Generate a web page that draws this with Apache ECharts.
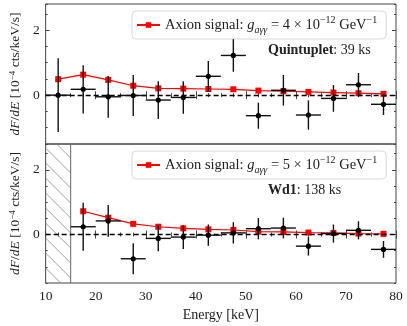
<!DOCTYPE html>
<html>
<head>
<meta charset="utf-8">
<script src="https://cdn.jsdelivr.net/npm/echarts@6/dist/echarts.min.js"></script>
<style>
  html, body { margin: 0; padding: 0; background: #fff; }
  #chart { width: 407px; height: 326px; }
</style>
</head>
<body>
<div id="chart"></div>
<script>
// bin centres (keV) and bin half width
const energy = [12.5, 17.5, 22.5, 27.5, 32.5, 37.5, 42.5, 47.5, 52.5, 57.5, 62.5, 67.5, 72.5, 77.5]
const binHalf = 2.5

// Quintuplet (top panel)
const quintFlux = [0.0, 0.18, -0.05, -0.01, -0.15, -0.07, 0.58, 1.22, -0.63, 0.15, -0.61, -0.10, 0.32, -0.28]
const quintErr = [1.13, 0.74, 0.64, 0.63, 0.58, 0.50, 0.47, 0.50, 0.40, 0.47, 0.45, 0.41, 0.36, 0.33]
const quintSignal = [0.49, 0.63, 0.47, 0.29, 0.21, 0.20, 0.19, 0.18, 0.14, 0.12, 0.10, 0.08, 0.06, 0.04]

// Wd1 (bottom panel), no data below 15 keV
const wd1Energy = [17.5, 22.5, 27.5, 32.5, 37.5, 42.5, 47.5, 52.5, 57.5, 62.5, 67.5, 72.5, 77.5]
const wd1Flux = [0.24, 0.42, -0.75, -0.12, -0.08, -0.02, 0.05, 0.18, 0.20, -0.36, 0.03, 0.13, -0.46]
const wd1Err = [0.74, 0.49, 0.48, 0.40, 0.37, 0.33, 0.33, 0.33, 0.32, 0.29, 0.28, 0.28, 0.26]
const wd1Signal = [0.72, 0.52, 0.33, 0.24, 0.19, 0.16, 0.14, 0.09, 0.08, 0.06, 0.05, 0.03, 0.02]

const excluded = [10, 15]
const yTicks = [0, 2]
const xRange = [10, 80]
const yRange = [-1.5, 2.8]

const FONT = 'Liberation Serif'
const TXT = '#222'
const chart = echarts.init(document.getElementById('chart'))

function xAxes (gridIndex, withLabels) {
  let base = {
    gridIndex: gridIndex,
    type: 'value',
    min: xRange[0],
    max: xRange[1],
    interval: 10,
    axisLine: { show: false },
    splitLine: { show: false },
    axisTick: { inside: true, length: 4, lineStyle: { color: '#444' } },
    minorTick: { show: true, splitNumber: 4, length: 2, lineStyle: { color: '#444' } }
  }
  let bottom = Object.assign({}, base, {
    position: 'bottom',
    axisLabel: { show: withLabels, color: TXT, fontFamily: FONT, fontSize: 13.5, margin: 6 }
  })
  if (withLabels) {
    bottom.name = 'Energy [keV]'
    bottom.nameLocation = 'middle'
    bottom.nameGap = 25
    bottom.nameTextStyle = { color: TXT, fontFamily: FONT, fontSize: 14 }
  }
  let top = Object.assign({}, base, { position: 'top', axisLabel: { show: false } })
  return [bottom, top]
}

function yAxes (gridIndex) {
  let minor = {
    gridIndex: gridIndex,
    type: 'value',
    min: yRange[0],
    max: yRange[1],
    interval: 0.5,
    axisLine: { show: false },
    splitLine: { show: false },
    axisLabel: { show: false },
    axisTick: { inside: true, length: 2, lineStyle: { color: '#444' } }
  }
  let major = Object.assign({}, minor, {
    axisTick: { inside: true, length: 4, customValues: yTicks, lineStyle: { color: '#444' } }
  })
  let left = Object.assign({}, minor, {
    position: 'left',
    axisLabel: { show: true, customValues: yTicks, color: TXT, fontFamily: FONT, fontSize: 13.5, margin: 6 },
    name: '{i|dF}/{i|dE} [10{s|−4} cts/keV/s]',
    nameLocation: 'middle',
    nameGap: 18,
    nameRotate: 90,
    nameTextStyle: {
      color: TXT, fontFamily: FONT, fontSize: 13.5,
      rich: {
        i: { fontStyle: 'italic', fontFamily: FONT, fontSize: 13.5, color: TXT },
        s: { fontSize: 9, fontFamily: FONT, color: TXT, verticalAlign: 'top', lineHeight: 14 }
      }
    }
  })
  return [
    left,
    Object.assign({}, major, { position: 'left' }),
    Object.assign({}, minor, { position: 'right' }),
    Object.assign({}, major, { position: 'right' })
  ]
}

function errorSeries (xIdx, yIdx, xs, ys, errs) {
  return {
    type: 'custom',
    xAxisIndex: xIdx,
    yAxisIndex: yIdx,
    z: 5,
    data: xs.map((x, i) => [x, ys[i], errs[i]]),
    renderItem (params, api) {
      let x = api.value(0)
      let y = api.value(1)
      let e = api.value(2)
      let c = api.coord([x, y])
      let lo = api.coord([x, y - e])
      let hi = api.coord([x, y + e])
      let l = api.coord([x - binHalf, y])
      let r = api.coord([x + binHalf, y])
      let st = { stroke: '#111', lineWidth: 1.4 }
      return {
        type: 'group',
        children: [
          { type: 'line', shape: { x1: lo[0], y1: lo[1], x2: hi[0], y2: hi[1] }, style: st },
          { type: 'line', shape: { x1: l[0], y1: l[1], x2: r[0], y2: r[1] }, style: st },
          { type: 'circle', shape: { cx: c[0], cy: c[1], r: 2.6 }, style: { fill: '#000' } }
        ]
      }
    }
  }
}

function signalSeries (name, xIdx, yIdx, xs, ys) {
  return {
    name: name,
    type: 'line',
    xAxisIndex: xIdx,
    yAxisIndex: yIdx,
    z: 4,
    data: xs.map((x, i) => [x, ys[i]]),
    symbol: 'rect',
    symbolSize: 6,
    lineStyle: { color: '#ff0000', width: 1.2 },
    itemStyle: { color: '#ff0000' },
    animation: false,
    markLine: {
      silent: true,
      symbol: 'none',
      label: { show: false },
      lineStyle: { color: '#000', type: [5, 3], width: 1.3 },
      data: [{ yAxis: 0 }],
      animation: false
    }
  }
}

// hatched region where the Wd1 data are excluded
const hatchSeries = {
  type: 'custom',
  xAxisIndex: 2,
  yAxisIndex: 4,
  z: 1,
  data: [[excluded[0], excluded[1]]],
  renderItem (params, api) {
    let p0 = api.coord([api.value(0), yRange[1]])
    let p1 = api.coord([api.value(1), yRange[0]])
    let L = p0[0], T = p0[1], R = p1[0], B = p1[1]
    let kids = []
    let st = { stroke: '#888', lineWidth: 0.8 }
    for (let c = L - B; c <= R - T; c += 15) {
      let xa = Math.max(L, T + c)
      let xb = Math.min(R, B + c)
      if (xb > xa) {
        kids.push({ type: 'line', shape: { x1: xa, y1: xa - c, x2: xb, y2: xb - c }, style: st })
      }
    }
    kids.push({ type: 'line', shape: { x1: R, y1: T, x2: R, y2: B }, style: { stroke: '#666', lineWidth: 1 } })
    return { type: 'group', children: kids }
  }
}

const legendRich = {
  i: { fontStyle: 'italic', fontFamily: FONT, fontSize: 14.5, color: TXT },
  sub: { fontStyle: 'italic', fontFamily: FONT, fontSize: 10, color: TXT, verticalAlign: 'bottom', lineHeight: 20 },
  sup: { fontFamily: FONT, fontSize: 10, color: TXT, verticalAlign: 'top', lineHeight: 15 }
}

function legendBox (name, top, g) {
  return {
    data: [name],
    left: 132,
    top: top,
    orient: 'horizontal',
    backgroundColor: '#fff',
    borderColor: '#d8d8d8',
    borderWidth: 1,
    borderRadius: 4,
    padding: [4, 9, 4, 4],
    itemWidth: 23,
    itemHeight: 7,
    itemGap: 5,
    selectedMode: false,
    textStyle: { color: TXT, fontFamily: FONT, fontSize: 14.5, rich: legendRich },
    formatter: () => 'Axion signal: {i|g}{sub|aγγ} = ' + g + ' × 10{sup|−12} GeV{sup|−1}'
  }
}

const noteStyle = {
  color: TXT, fontFamily: FONT, fontSize: 14, fontWeight: 'normal',
  rich: { b: { fontWeight: 'bold', fontFamily: FONT, fontSize: 14, color: TXT } }
}

const option = {
  animation: false,
  textStyle: { fontFamily: FONT },
  grid: [
    { left: 37, right: 11, top: 4, height: 140, show: true, borderColor: '#444', borderWidth: 1, backgroundColor: 'transparent' },
    { left: 37, right: 11, top: 144, bottom: 43, show: true, borderColor: '#444', borderWidth: 1, backgroundColor: 'transparent' }
  ],
  xAxis: [].concat(xAxes(0, false), xAxes(1, true)),
  yAxis: [].concat(yAxes(0), yAxes(1)),
  legend: [legendBox('sigQ', 11, 4), legendBox('sigW', 151, 5)],
  title: [
    { text: '{b|Quintuplet}: 39 ks', left: 268, top: 43, padding: 0, textStyle: noteStyle },
    { text: '{b|Wd1}: 138 ks', left: 268, top: 183, padding: 0, textStyle: noteStyle }
  ],
  series: [
    hatchSeries,
    signalSeries('sigQ', 0, 0, energy, quintSignal),
    errorSeries(0, 0, energy, quintFlux, quintErr),
    signalSeries('sigW', 2, 4, wd1Energy, wd1Signal),
    errorSeries(2, 4, wd1Energy, wd1Flux, wd1Err)
  ]
}

chart.setOption(option)
</script>
</body>
</html>
